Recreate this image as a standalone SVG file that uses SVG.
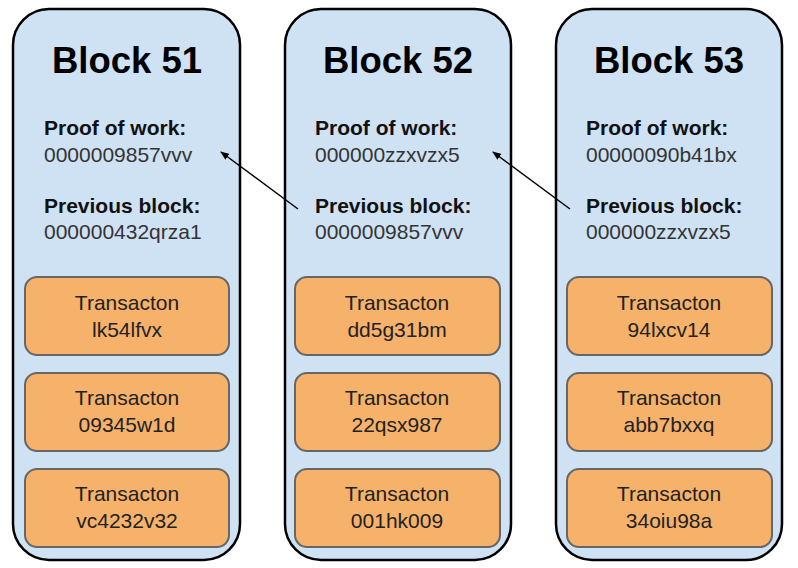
<svg xmlns="http://www.w3.org/2000/svg" width="798" height="568" viewBox="0 0 798 568">
<defs>
<style>
.blk{fill:#cfe2f3;stroke:#000;stroke-width:2.5}
.tx{fill:#f6b26b;stroke:#666;stroke-width:2}
.title{font-family:"Liberation Sans",Arial,sans-serif;font-weight:bold;font-size:36.5px;fill:#000;text-anchor:middle}
.lbl{font-family:"Liberation Sans",Arial,sans-serif;font-weight:bold;font-size:21px;fill:#111}
.val{font-family:"Liberation Sans",Arial,sans-serif;font-size:21px;fill:#333}
.tt{font-family:"Liberation Sans",Arial,sans-serif;font-size:21px;fill:#222;text-anchor:middle}
.conn{stroke:#000;stroke-width:1.5;fill:none}
</style>
<marker id="ah" viewBox="0 0 10 10" refX="9" refY="5" markerWidth="9" markerHeight="7" orient="auto" markerUnits="userSpaceOnUse" preserveAspectRatio="none">
<path d="M0,0 L10,5 L0,10 z" fill="#000"/>
</marker>
</defs>
<g id="block51">
<rect class="blk" x="13" y="9" width="227" height="551" rx="36"/>
<text class="title" x="127" y="73">Block 51</text>
<text class="lbl" x="44" y="135">Proof of work:</text>
<text class="val" x="44" y="162">0000009857vvv</text>
<text class="lbl" x="44" y="213">Previous block:</text>
<text class="val" x="44" y="239">000000432qrza1</text>
<g id="tx51a"><rect class="tx" x="25" y="277" width="204" height="78" rx="12"/><text class="tt" x="127" y="310">Transacton</text><text class="tt" x="127" y="337">lk54lfvx</text></g>
<g id="tx51b"><rect class="tx" x="25" y="373" width="204" height="78" rx="12"/><text class="tt" x="127" y="405">Transacton</text><text class="tt" x="127" y="432">09345w1d</text></g>
<g id="tx51c"><rect class="tx" x="25" y="469" width="204" height="78" rx="12"/><text class="tt" x="127" y="501">Transacton</text><text class="tt" x="127" y="528">vc4232v32</text></g>
</g>
<g id="block52">
<rect class="blk" x="285" y="9" width="226" height="551" rx="36"/>
<text class="title" x="398" y="73">Block 52</text>
<text class="lbl" x="315" y="135">Proof of work:</text>
<text class="val" x="315" y="162">000000zzxvzx5</text>
<text class="lbl" x="315" y="213">Previous block:</text>
<text class="val" x="315" y="239">0000009857vvv</text>
<g id="tx52a"><rect class="tx" x="295" y="277" width="205" height="78" rx="12"/><text class="tt" x="397" y="310">Transacton</text><text class="tt" x="397" y="337">dd5g31bm</text></g>
<g id="tx52b"><rect class="tx" x="295" y="373" width="205" height="78" rx="12"/><text class="tt" x="397" y="405">Transacton</text><text class="tt" x="397" y="432">22qsx987</text></g>
<g id="tx52c"><rect class="tx" x="295" y="469" width="205" height="78" rx="12"/><text class="tt" x="397" y="501">Transacton</text><text class="tt" x="397" y="528">001hk009</text></g>
</g>
<g id="block53">
<rect class="blk" x="556" y="9" width="226" height="551" rx="36"/>
<text class="title" x="669" y="73">Block 53</text>
<text class="lbl" x="586" y="135">Proof of work:</text>
<text class="val" x="586" y="162">00000090b41bx</text>
<text class="lbl" x="586" y="213">Previous block:</text>
<text class="val" x="586" y="239">000000zzxvzx5</text>
<g id="tx53a"><rect class="tx" x="567" y="277" width="205" height="78" rx="12"/><text class="tt" x="669" y="310">Transacton</text><text class="tt" x="669" y="337">94lxcv14</text></g>
<g id="tx53b"><rect class="tx" x="567" y="373" width="205" height="78" rx="12"/><text class="tt" x="669" y="405">Transacton</text><text class="tt" x="669" y="432">abb7bxxq</text></g>
<g id="tx53c"><rect class="tx" x="567" y="469" width="205" height="78" rx="12"/><text class="tt" x="669" y="501">Transacton</text><text class="tt" x="669" y="528">34oiu98a</text></g>
</g>
<g id="connectors">
<line class="conn" x1="298" y1="209" x2="221" y2="152" marker-end="url(#ah)"/>
<line class="conn" x1="570" y1="209" x2="493" y2="152" marker-end="url(#ah)"/>
</g>
</svg>
